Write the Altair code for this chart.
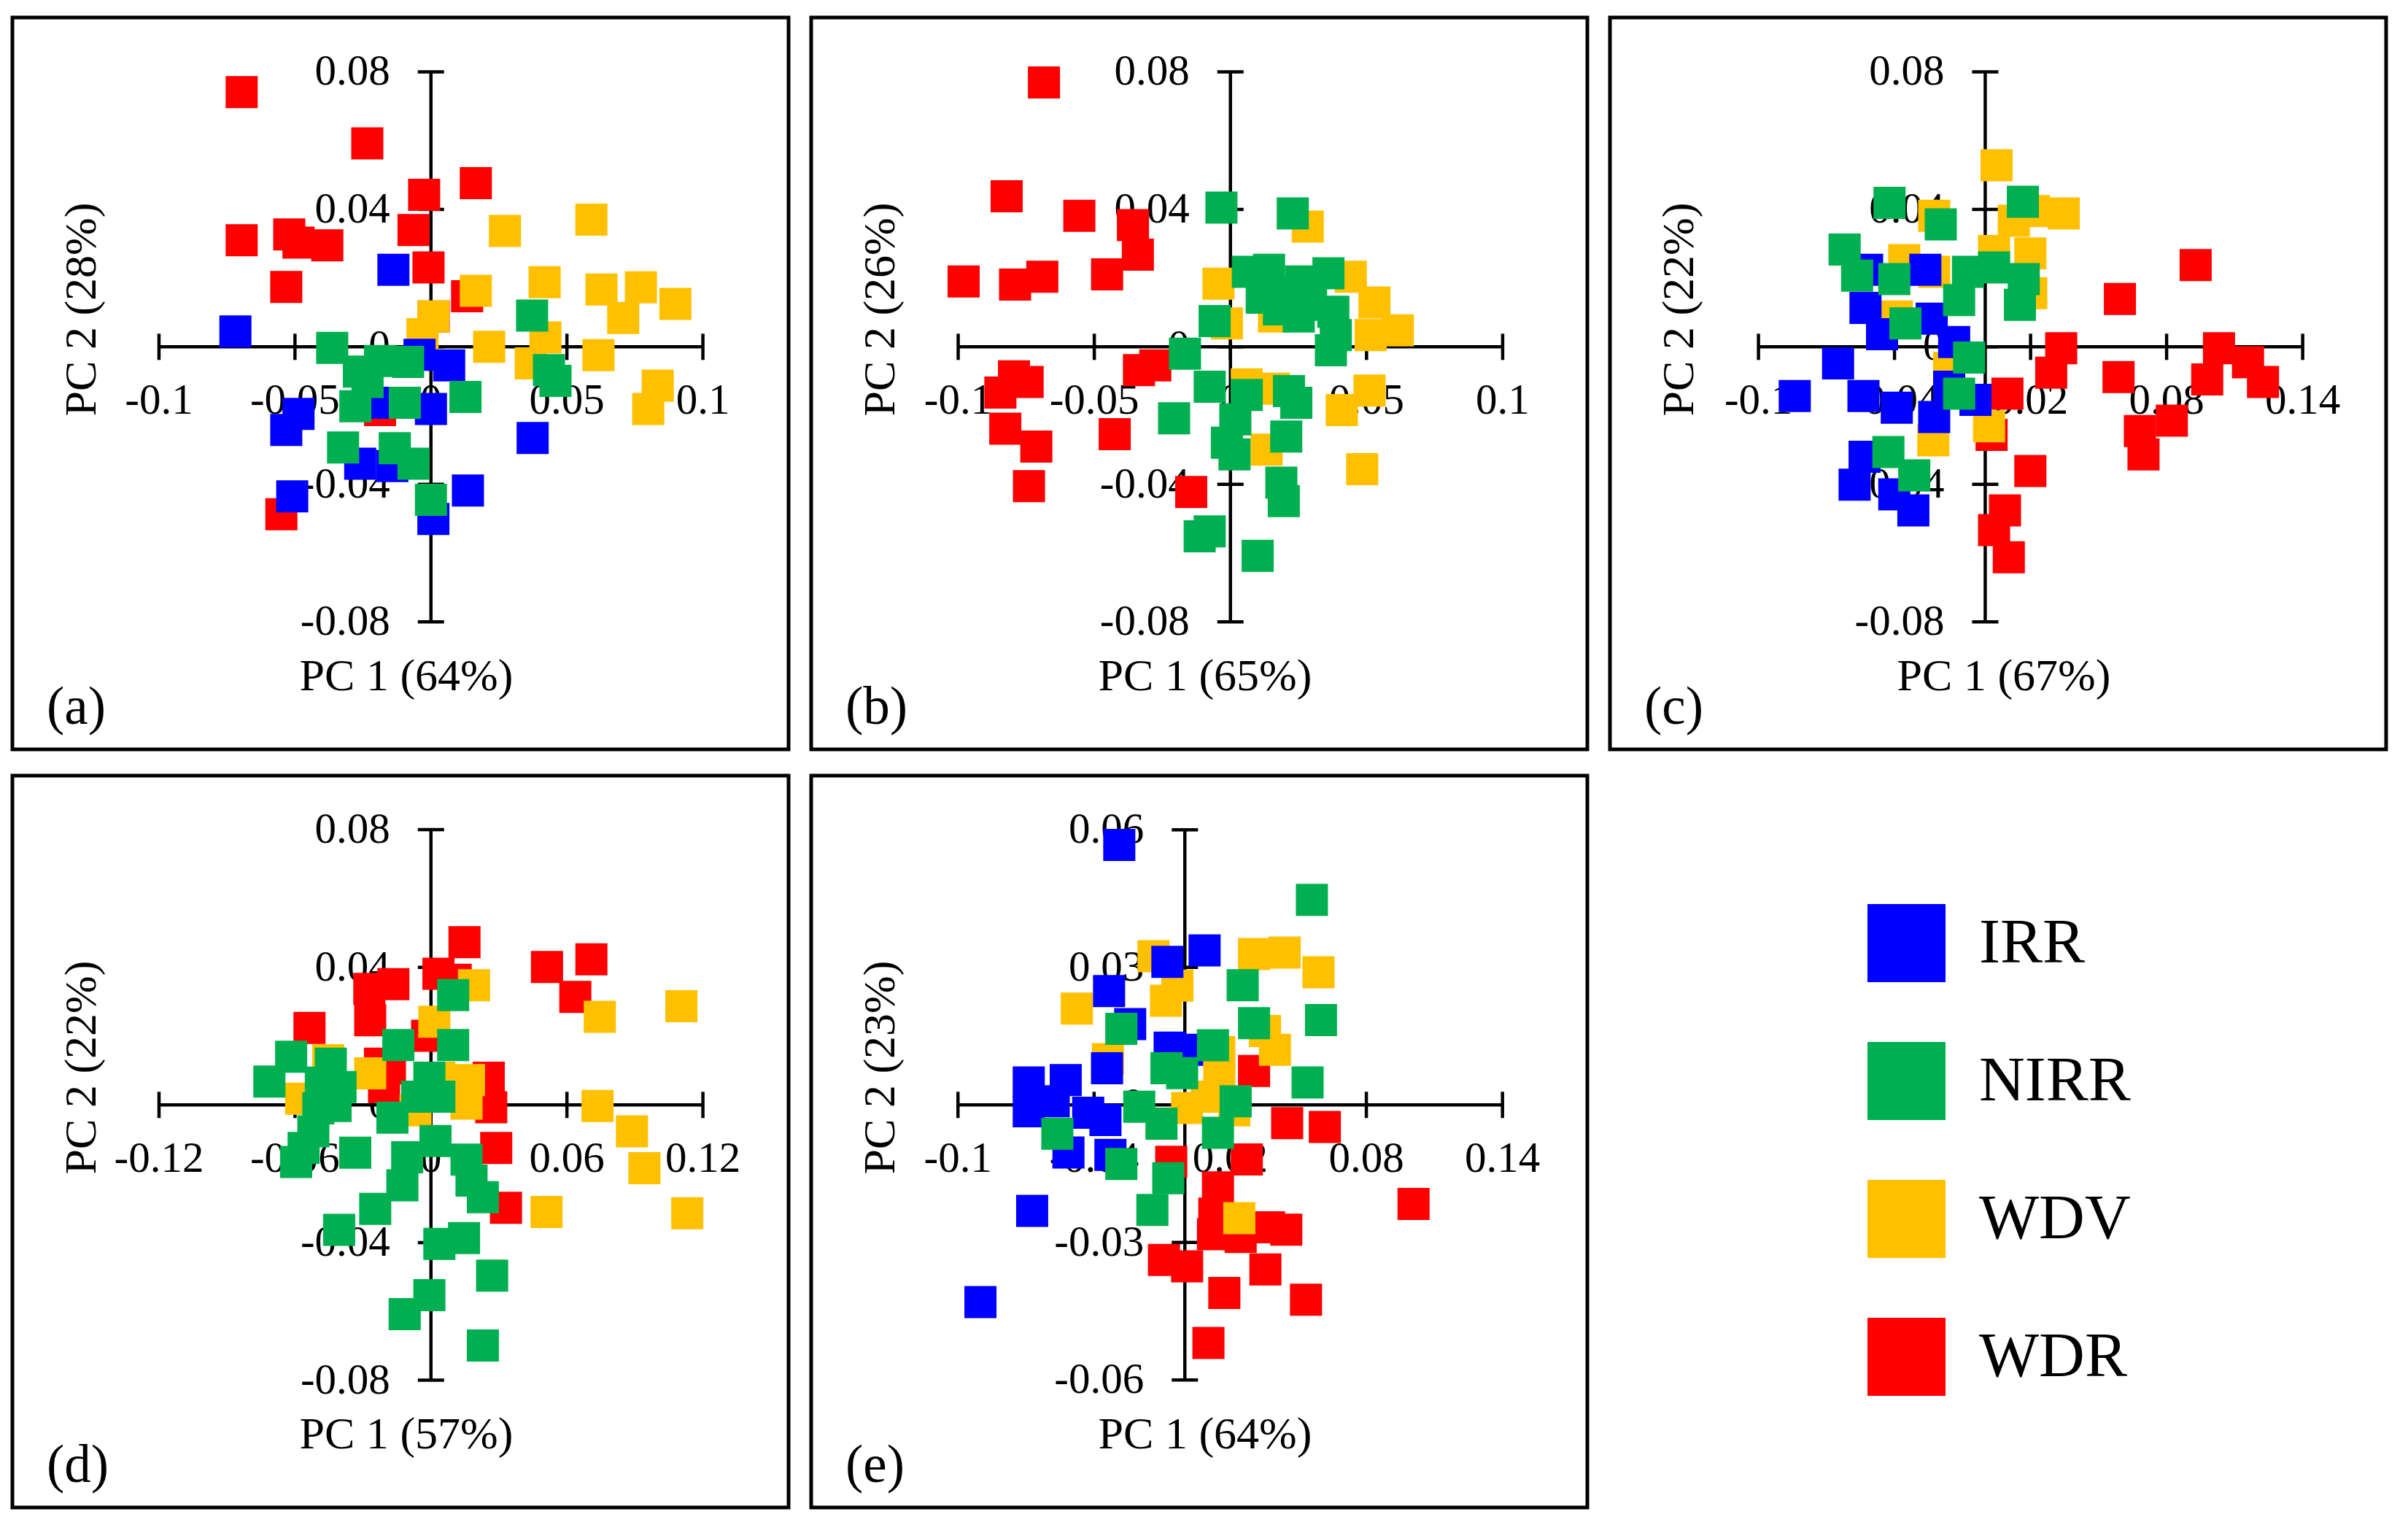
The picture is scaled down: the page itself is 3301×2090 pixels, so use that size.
import altair as alt
import pandas as pd

GROUPS = ["IRR", "NIRR", "WDV", "WDR"]
COLORS = ["#0000FF", "#00B050", "#FFC000", "#FF0000"]
DRAW_ORDER = ["WDR", "WDV", "IRR", "NIRR"]
FONT = "Liberation Serif"

# ---------------- panel (a) ----------------
A_WDR_X = [-0.0696, -0.0234, 0.0165, -0.0025, -0.0696, -0.0521, -0.0487, -0.0381, -0.0064, -0.0009, -0.0532, 0.0133, 0.0010, -0.0550, -0.0187]
A_WDR_Y = [0.0741, 0.0592, 0.0476, 0.0442, 0.0310, 0.0327, 0.0303, 0.0295, 0.0340, 0.0231, 0.0174, 0.0147, 0.0088, -0.0487, -0.0184]
A_WDV_X = [0.0272, 0.0590, 0.0165, 0.0009, -0.0031, 0.0418, 0.0627, 0.0772, 0.0899, 0.0707, 0.0214, 0.0421, 0.0367, 0.0616, 0.0834, 0.0799]
A_WDV_Y = [0.0337, 0.0370, 0.0163, 0.0088, 0.0037, 0.0188, 0.0167, 0.0173, 0.0125, 0.0084, 0.0000, 0.0027, -0.0048, -0.0024, -0.0113, -0.0181]
A_IRR_X = [-0.0138, -0.0719, -0.0042, 0.0067, -0.0487, -0.0532, -0.0260, -0.0142, -0.0510, 0.0000, 0.0009, 0.0136, 0.0374, -0.0205]
A_IRR_Y = [0.0224, 0.0045, -0.0023, -0.0054, -0.0195, -0.0242, -0.0340, -0.0347, -0.0435, -0.0181, -0.0501, -0.0418, -0.0265, -0.0163]
A_NIRR_X = [-0.0363, -0.0265, -0.0187, -0.0084, -0.0233, -0.0278, -0.0096, -0.0323, -0.0133, -0.0064, 0.0000, 0.0127, 0.0372, 0.0434, 0.0458]
A_NIRR_Y = [-0.0003, -0.0072, -0.0041, -0.0044, -0.0102, -0.0173, -0.0163, -0.0293, -0.0295, -0.0340, -0.0445, -0.0146, 0.0091, -0.0068, -0.0099]

# ---------------- panel (b) ----------------
B_WDR_X = [-0.0685, -0.0822, -0.0555, -0.0358, -0.0340, -0.0453, -0.0980, -0.0791, -0.0691, -0.0276, -0.0336, -0.0795, -0.0745, -0.0845, -0.0827, -0.0713, -0.0425, -0.0740, -0.0144]
B_WDR_Y = [0.0769, 0.0438, 0.0381, 0.0354, 0.0268, 0.0211, 0.0190, 0.0181, 0.0204, -0.0054, -0.0068, -0.0086, -0.0102, -0.0133, -0.0238, -0.0290, -0.0254, -0.0405, -0.0422]
B_WDV_X = [0.0284, -0.0044, -0.0013, 0.0160, 0.0442, 0.0529, 0.0615, 0.0515, 0.0060, 0.0160, 0.0511, 0.0409, 0.0133, 0.0484]
B_WDV_Y = [0.0350, 0.0184, 0.0068, 0.0088, 0.0204, 0.0129, 0.0048, 0.0034, -0.0109, -0.0122, -0.0127, -0.0184, -0.0299, -0.0356]
B_NIRR_X = [-0.0033, 0.0229, 0.0064, 0.0142, 0.0260, 0.0360, 0.0115, 0.0205, 0.0296, 0.0378, 0.0369, 0.0178, 0.0251, 0.0387,
            -0.0058, -0.0167, -0.0076, 0.0060, 0.0215, 0.0242, -0.0207, 0.0018, -0.0013, 0.0015, 0.0205, 0.0187, 0.0196, -0.0113, -0.0076, 0.0100]
B_NIRR_Y = [0.0405, 0.0388, 0.0218, 0.0224, 0.0190, 0.0214, 0.0143, 0.0156, 0.0122, 0.0102, -0.0010, 0.0109, 0.0088, 0.0034,
            0.0075, -0.0020, -0.0116, -0.0140, -0.0129, -0.0163, -0.0208, -0.0211, -0.0279, -0.0313, -0.0261, -0.0395, -0.0449, -0.0551, -0.0537, -0.0608]

# ---------------- panel (c) ----------------
C_WDR_X = [0.0928, 0.0594, 0.0335, 0.0291, 0.0588, 0.1031, 0.1159, 0.1225, 0.0979, 0.0098, 0.0028, 0.0682, 0.0823, 0.0698, 0.0199, 0.0087, 0.0039, 0.0104]
C_WDR_Y = [0.0238, 0.0139, -0.0004, -0.0075, -0.0088, -0.0004, -0.0045, -0.0102, -0.0095, -0.0136, -0.0256, -0.0245, -0.0215, -0.0313, -0.0361, -0.0476, -0.0533, -0.0612]
C_WDV_X = [0.0050, 0.0126, 0.0214, 0.0346, -0.0225, 0.0039, 0.0199, -0.0357, 0.0203, -0.0390, -0.0159, 0.0017, -0.0229, -0.0225]
C_WDV_Y = [0.0528, 0.0367, 0.0395, 0.0388, 0.0381, 0.0279, 0.0272, 0.0252, 0.0156, 0.0088, -0.0061, -0.0231, -0.0272, 0.0218]
C_IRR_X = [-0.0840, -0.0649, -0.0528, -0.0455, -0.0264, -0.0236, -0.0137, -0.0537, -0.0390, -0.0225, -0.0159, -0.0043, -0.0532, -0.0576, -0.0401, -0.0317, -0.0521]
C_IRR_Y = [-0.0143, -0.0048, 0.0113, 0.0037, 0.0224, 0.0082, 0.0014, -0.0143, -0.0177, -0.0204, -0.0116, -0.0154, -0.0320, -0.0401, -0.0429, -0.0476, 0.0224]
C_NIRR_X = [-0.0422, -0.0196, 0.0166, -0.0620, -0.0565, -0.0401, -0.0352, -0.0076, 0.0039, 0.0170, -0.0115, 0.0153, -0.0071, -0.0115, -0.0427, -0.0313]
C_NIRR_Y = [0.0419, 0.0356, 0.0422, 0.0283, 0.0207, 0.0197, 0.0068, 0.0218, 0.0231, 0.0197, 0.0136, 0.0122, -0.0031, -0.0136, -0.0306, -0.0374]

# ---------------- panel (d) ----------------
D_WDR_X = [0.0148, 0.0033, 0.0109, 0.0512, 0.0708, 0.0637, -0.0166, -0.0272, -0.0268, -0.0536, -0.0017, -0.0181, 0.0255, 0.0266, 0.0288, 0.0331, -0.0207, -0.0225]
D_WDR_Y = [0.0473, 0.0381, 0.0364, 0.0401, 0.0423, 0.0314, 0.0351, 0.0337, 0.0246, 0.0224, 0.0201, 0.0106, 0.0079, -0.0007, -0.0125, -0.0299, 0.0052, 0.0120]
D_WDV_X = [0.0190, 0.0015, 0.0745, 0.1105, 0.0168, 0.0157, 0.0735, 0.0887, 0.0942, 0.0510, 0.1131, -0.0268, -0.0453, -0.0573, -0.0068, 0.0037]
D_WDV_Y = [0.0348, 0.0242, 0.0256, 0.0287, 0.0072, 0.0004, -0.0003, -0.0077, -0.0184, -0.0311, -0.0315, 0.0092, 0.0130, 0.0018, -0.0016, 0.0079]
D_NIRR_X = [0.0098, -0.0617, -0.0713, -0.0442, -0.0486, -0.0399, -0.0497, -0.0421, -0.0144, 0.0098, -0.0007, -0.0061, 0.0037, -0.0170, -0.0519, -0.0562,
            -0.0595, -0.0334, 0.0020, -0.0105, 0.0157, -0.0126, 0.0179, 0.0229, -0.0246, -0.0405, 0.0037, 0.0146, 0.0270, -0.0007, -0.0116, 0.0229]
D_NIRR_Y = [0.0319, 0.0140, 0.0068, 0.0120, 0.0065, 0.0052, -0.0010, -0.0003, 0.0174, 0.0174, 0.0079, 0.0024, 0.0024, -0.0037, -0.0077, -0.0125,
            -0.0166, -0.0139, -0.0105, -0.0152, -0.0159, -0.0234, -0.0220, -0.0268, -0.0302, -0.0363, -0.0404, -0.0387, -0.0496, -0.0553, -0.0608, -0.0699]

# ---------------- panel (e) ----------------
E_WDR_X = [0.0305, 0.0451, 0.0617, 0.0273, -0.0060, 0.0146, 0.0130, 0.1008, 0.0447, 0.0371, 0.0124, 0.0246, -0.0092, 0.0010, 0.0355, 0.0174, 0.0534, 0.0104]
E_WDR_Y = [0.0074, -0.0040, -0.0048, -0.0119, -0.0124, -0.0180, -0.0237, -0.0216, -0.0272, -0.0267, -0.0282, -0.0288, -0.0338, -0.0352, -0.0359, -0.0410, -0.0425, -0.0519]
E_WDV_X = [-0.0138, 0.0305, 0.0440, 0.0589, -0.0033, -0.0083, -0.0476, 0.0353, 0.0397, 0.0152, -0.0339, 0.0152, 0.0097, 0.0010, 0.0218, 0.0240]
E_WDV_Y = [0.0324, 0.0329, 0.0332, 0.0289, 0.0260, 0.0227, 0.0210, 0.0161, 0.0120, 0.0115, 0.0100, 0.0059, 0.0018, -0.0007, -0.0012, -0.0247]
E_IRR_X = [-0.0289, 0.0087, -0.0077, -0.0334, -0.0241, -0.0067, -0.0343, -0.0688, -0.0525, -0.0688, -0.0578, -0.0426, -0.0350, -0.0513, -0.0328, -0.0673, -0.0901, 0.0010]
E_IRR_Y = [0.0567, 0.0337, 0.0312, 0.0248, 0.0176, 0.0125, 0.0080, 0.0049, 0.0054, -0.0014, 0.0008, -0.0017, -0.0033, -0.0104, -0.0109, -0.0231, -0.0430, 0.0120]
E_NIRR_X = [0.0560, 0.0255, 0.0305, 0.0600, -0.0280, 0.0124, -0.0081, -0.0012, 0.0541, -0.0201, 0.0224, -0.0103, 0.0146, -0.0562, -0.0280, -0.0073, -0.0143]
E_NIRR_Y = [0.0447, 0.0261, 0.0178, 0.0185, 0.0166, 0.0130, 0.0080, 0.0069, 0.0049, -0.0004, 0.0008, -0.0041, -0.0061, -0.0063, -0.0129, -0.0160, -0.0229]

# ---------------- axes ----------------
X_TICKS_AB = [-0.1, -0.05, 0, 0.05, 0.1]
X_TICKS_CE = [-0.1, -0.04, 0.02, 0.08, 0.14]
X_TICKS_D = [-0.12, -0.06, 0, 0.06, 0.12]
Y_TICKS_ABCD = [-0.08, -0.04, 0, 0.04, 0.08]
Y_TICKS_E = [-0.06, -0.03, 0, 0.03, 0.06]

X_TITLES = ["PC 1 (64%)", "PC 1 (65%)", "PC 1 (67%)", "PC 1 (57%)", "PC 1 (64%)"]
Y_TITLES = ["PC 2 (28%)", "PC 2 (26%)", "PC 2 (22%)", "PC 2 (22%)", "PC 2 (23%)"]
TAGS = ["(a)", "(b)", "(c)", "(d)", "(e)"]

PW, PH = 1064, 1003

LEGEND = alt.Legend(
    orient="none", legendX=2543, legendY=1215, direction="vertical",
    symbolType="square", symbolSize=11449, symbolStrokeWidth=0, symbolOpacity=1,
    labelFont=FONT, labelFontSize=87, labelColor="black", labelOffset=46,
    labelLimit=500, rowPadding=82, padding=0,
)


def make_points(series):
    rows = []
    for g in DRAW_ORDER:
        if g in series:
            xs, ys = series[g]
            for x, y in zip(xs, ys):
                rows.append({"pc1": x, "pc2": y, "group": g})
    return pd.DataFrame(rows)


def fmt(v):
    return f"{v:g}"


def panel(points, xticks, yticks, xtitle, ytitle, tag, xdom, ydom):
    xs = alt.Scale(domain=xdom, nice=False, zero=False)
    ys = alt.Scale(domain=ydom, nice=False, zero=False)

    def X(f):
        return alt.X(f, type="quantitative", scale=xs, axis=None)

    def Y(f):
        return alt.Y(f, type="quantitative", scale=ys, axis=None)

    hline = alt.Chart(pd.DataFrame({"a": [xticks[0]], "b": [xticks[-1]], "z": [0]})).mark_rule(
        color="black", strokeWidth=4.5).encode(x=X("a"), x2="b", y=Y("z"))
    vline = alt.Chart(pd.DataFrame({"a": [yticks[0]], "b": [yticks[-1]], "z": [0]})).mark_rule(
        color="black", strokeWidth=4.5).encode(y=Y("a"), y2="b", x=X("z"))

    xt = pd.DataFrame({"v": xticks, "z": [0] * len(xticks), "lab": [fmt(v) for v in xticks]})
    yt = pd.DataFrame({"v": yticks, "z": [0] * len(yticks), "lab": [fmt(v) for v in yticks]})

    xtick = alt.Chart(xt).mark_tick(orient="vertical", size=36, thickness=4.5, color="black", opacity=1).encode(
        x=X("v"), y=Y("z"))
    ytick = alt.Chart(yt).mark_tick(orient="horizontal", size=36, thickness=4.5, color="black", opacity=1).encode(
        x=X("z"), y=Y("v"))

    xlab = alt.Chart(xt).mark_text(font=FONT, fontSize=59, color="black", align="center",
                                   baseline="middle", dy=74).encode(x=X("v"), y=Y("z"), text="lab:N")
    ylab = alt.Chart(yt).mark_text(font=FONT, fontSize=59, color="black", align="right",
                                   baseline="middle", dx=-56).encode(x=X("z"), y=Y("v"), text="lab:N")

    pts = alt.Chart(points).mark_square(size=1936, opacity=1, filled=True, strokeWidth=0).encode(
        x=X("pc1"), y=Y("pc2"),
        color=alt.Color("group:N", scale=alt.Scale(domain=GROUPS, range=COLORS), legend=LEGEND, title=None),
    )

    xt_title = alt.Chart(pd.DataFrame({"t": [xtitle]})).mark_text(
        font=FONT, fontSize=62, color="black", align="center", baseline="middle").encode(
        x=alt.value(540), y=alt.value(903), text="t:N")
    yt_title = alt.Chart(pd.DataFrame({"t": [ytitle]})).mark_text(
        font=FONT, fontSize=62, color="black", align="center", baseline="middle", angle=270).encode(
        x=alt.value(95), y=alt.value(400), text="t:N")
    tag_txt = alt.Chart(pd.DataFrame({"t": [tag]})).mark_text(
        font=FONT, fontSize=73, color="black", align="left", baseline="middle").encode(
        x=alt.value(47), y=alt.value(946), text="t:N")

    return alt.layer(hline, vline, xtick, ytick, xlab, ylab, pts, xt_title, yt_title, tag_txt).properties(
        width=PW, height=PH)


pa = panel(make_points({"WDR": (A_WDR_X, A_WDR_Y), "WDV": (A_WDV_X, A_WDV_Y),
                        "IRR": (A_IRR_X, A_IRR_Y), "NIRR": (A_NIRR_X, A_NIRR_Y)}),
           X_TICKS_AB, Y_TICKS_ABCD, X_TITLES[0], Y_TITLES[0], TAGS[0],
           [-0.1539, 0.1315], [-0.1171, 0.0958])
pb = panel(make_points({"WDR": (B_WDR_X, B_WDR_Y), "WDV": (B_WDV_X, B_WDV_Y),
                        "NIRR": (B_NIRR_X, B_NIRR_Y)}),
           X_TICKS_AB, Y_TICKS_ABCD, X_TITLES[1], Y_TITLES[1], TAGS[1],
           [-0.1540, 0.1311], [-0.1171, 0.0958])
pc = panel(make_points({"WDR": (C_WDR_X, C_WDR_Y), "WDV": (C_WDV_X, C_WDV_Y),
                        "IRR": (C_IRR_X, C_IRR_Y), "NIRR": (C_NIRR_X, C_NIRR_Y)}),
           X_TICKS_CE, Y_TICKS_ABCD, X_TITLES[2], Y_TITLES[2], TAGS[2],
           [-0.1655, 0.1768], [-0.1171, 0.0958])
pd_ = panel(make_points({"WDR": (D_WDR_X, D_WDR_Y), "WDV": (D_WDV_X, D_WDV_Y),
                         "NIRR": (D_NIRR_X, D_NIRR_Y)}),
            X_TICKS_D, Y_TICKS_ABCD, X_TITLES[3], Y_TITLES[3], TAGS[3],
            [-0.1847, 0.1578], [-0.1170, 0.0957])
pe = panel(make_points({"WDR": (E_WDR_X, E_WDR_Y), "WDV": (E_WDV_X, E_WDV_Y),
                        "IRR": (E_IRR_X, E_IRR_Y), "NIRR": (E_NIRR_X, E_NIRR_Y)}),
           X_TICKS_CE, Y_TICKS_E, X_TITLES[4], Y_TITLES[4], TAGS[4],
           [-0.1647, 0.1774], [-0.0878, 0.0718])

chart = alt.ConcatChart(
    concat=[pa, pb, pc, pd_, pe],
    columns=3,
    spacing=alt.RowColnumber(row=36, column=31),
    bounds="flush",
).properties(
    padding={"left": 6, "top": 13, "right": 5, "bottom": 5},
    background="white",
).configure_view(stroke="black", strokeWidth=5)

chart.save("out.html", embed_options={"renderer": "svg", "actions": False})
